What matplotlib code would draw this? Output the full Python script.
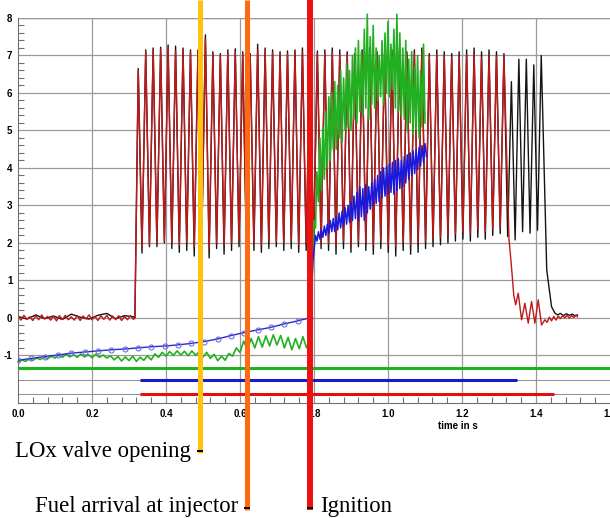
import numpy as np
import matplotlib
matplotlib.use('Agg')
import matplotlib.pyplot as plt
from matplotlib.lines import Line2D
from matplotlib.ticker import FixedLocator, MultipleLocator
import matplotlib.transforms as mtransforms

# ---- data ----
# pulsed feed pressure (black / red), start of first peak and pulse period in s
T0 = 0.325
PERIOD = 0.02017
t_rise = 0.316

black_pre_t = [0.0, 0.024, 0.048, 0.072, 0.096, 0.120, 0.144, 0.168, 0.192, 0.216, 0.240, 0.264, 0.288, 0.312]
black_pre_v = [0.04, -0.03, 0.08, -0.02, 0.05, -0.04, 0.10, 0.02, -0.03, 0.07, 0.12, -0.02, 0.06, 0.03]
black_peaks = [6.65, 7.15, 7.20, 7.22, 7.28, 7.25, 7.20, 7.15, 7.15, 7.55,
               7.10, 7.05, 7.15, 7.18, 7.10, 7.05, 7.30, 7.20, 7.15, 7.10,
               7.12, 7.15, 7.20, 7.10, 7.12, 7.15, 7.20, 7.15, 7.10, 7.05,
               7.15, 7.20, 7.10, 7.05, 7.15, 7.20, 7.10, 7.15, 7.20, 7.05,
               7.15, 7.10, 7.05, 7.10, 7.15, 7.20, 7.10, 7.15, 7.10, 7.05,
               6.30, 6.90, 6.90, 6.75, 7.00]
black_troughs = [1.73, 1.90, 1.90, 2.00, 1.85, 1.75, 1.80, 1.65, 1.90, 1.60,
                 1.85, 1.70, 1.80, 1.90, 1.70, 1.80, 1.75, 1.85, 1.90, 1.80,
                 1.85, 1.75, 1.80, 1.90, 1.85, 1.80, 1.70, 1.85, 1.75, 1.90,
                 1.80, 1.70, 1.85, 1.75, 1.65, 1.80, 1.70, 1.75, 1.85, 1.90,
                 1.95, 2.00, 2.05, 2.10, 2.05, 2.15, 2.10, 2.20, 2.25, 2.17,
                 2.08, 2.30, 2.26, 2.34]
black_tail_t = [1.429, 1.442, 1.451, 1.458, 1.466, 1.474, 1.482, 1.490, 1.498, 1.506, 1.512]
black_tail_v = [1.28, 0.30, 0.13, 0.08, 0.12, 0.06, 0.11, 0.07, 0.10, 0.05, 0.08]

red_pre_t = [0.000, 0.008, 0.016, 0.024, 0.032, 0.040, 0.048, 0.056, 0.064, 0.072,
             0.080, 0.088, 0.096, 0.104, 0.112, 0.120, 0.128, 0.136, 0.144, 0.152,
             0.160, 0.168, 0.176, 0.184, 0.192, 0.200, 0.208, 0.216, 0.224, 0.232,
             0.240, 0.248, 0.256, 0.264, 0.272, 0.280, 0.288, 0.296, 0.304, 0.312]
red_pre_v = [0.05, -0.06, 0.07, -0.04, 0.03, -0.07, 0.06, -0.05, 0.08, -0.03,
             0.04, -0.06, 0.05, -0.08, 0.06, -0.04, 0.07, -0.05, 0.03, -0.06,
             0.06, -0.07, 0.05, -0.03, 0.08, -0.05, 0.04, -0.07, 0.06, -0.04,
             0.07, -0.06, 0.05, -0.05, 0.06, -0.07, 0.04, -0.05, 0.06, -0.04]
red_peaks = [6.60, 7.10, 7.15, 7.18, 7.20, 7.12, 7.15, 7.10, 7.08, 7.45,
             7.05, 7.00, 7.08, 7.10, 7.05, 7.00, 7.15, 7.12, 7.08, 7.05,
             7.05, 7.08, 7.10, 7.02, 7.05, 7.08, 7.10, 7.05, 7.02, 7.00,
             7.08, 7.10, 7.02, 6.98, 7.05, 7.10, 7.02, 7.05, 7.08, 6.98,
             7.02, 7.00, 6.95, 6.98, 7.02, 7.05, 6.95, 7.00, 6.98, 7.00]
red_troughs = [1.90, 1.95, 2.00, 2.05, 2.00, 1.95, 2.00, 1.90, 2.05, 1.85,
               2.00, 1.95, 2.00, 2.05, 1.95, 2.00, 1.95, 2.05, 2.05, 2.00,
               2.05, 1.95, 2.00, 2.05, 2.00, 2.00, 1.95, 2.05, 1.95, 2.05,
               2.00, 1.95, 2.05, 1.95, 1.90, 2.00, 1.95, 2.00, 2.05, 2.10,
               2.15, 2.20, 2.25, 2.30, 2.25, 2.35, 2.30, 2.38, 2.40]
red_tail_t = [1.327, 1.333, 1.340, 1.345, 1.352, 1.361, 1.370, 1.379, 1.388, 1.397,
              1.406, 1.415, 1.424, 1.430, 1.436, 1.442, 1.448, 1.454, 1.460, 1.466,
              1.472, 1.478, 1.484, 1.490, 1.496, 1.502, 1.508, 1.512]
red_tail_v = [2.10, 1.45, 0.60, 0.35, 0.66, -0.05, 0.39, -0.14, 0.44, -0.14,
              0.48, -0.19, -0.05, -0.12, 0.02, -0.08, 0.04, -0.06, 0.05, -0.02,
              0.06, 0.00, 0.07, -0.01, 0.06, 0.01, 0.08, 0.03]

# green (chamber signal) before ignition, 0.01 s steps from 0.00 to 0.79
green_pre_v = [-1.17, -1.12, -1.16, -1.10, -1.13, -1.07, -1.11, -1.05, -1.09, -1.02,
               -1.07, -0.99, -1.05, -0.97, -1.04, -0.98, -1.05, -0.96, -1.04, -0.98,
               -1.06, -0.97, -1.05, -0.99, -1.07, -1.01, -1.12, -1.03, -1.15, -1.04,
               -1.14, -1.02, -1.16, -1.05, -1.13, -1.01, -1.12, -0.96, -1.05, -0.92,
               -1.02, -0.90, -1.00, -0.88, -0.99, -0.89, -1.01, -0.88, -1.00, -0.90,
               -1.04, -0.92, -1.08, -0.97, -1.14, -1.02, -1.13, -0.95, -1.02, -0.80,
               -0.92, -0.62, -0.85, -0.55, -0.80, -0.50, -0.78, -0.48, -0.75, -0.45,
               -0.72, -0.47, -0.80, -0.52, -0.85, -0.55, -0.82, -0.50, -0.80, -0.55]
green_jump_t = [0.794]
green_jump_v = [0.80]
# after ignition: upper / lower swing, 0.008 s steps from 0.800
green_hi = [2.6, 3.9, 4.8, 5.1, 5.5, 5.9, 6.0, 6.3, 6.2, 6.6,
            6.4, 6.8, 6.6, 7.0, 7.2, 7.4, 7.1, 7.7, 8.1, 7.5,
            7.8, 7.2, 7.0, 7.4, 7.6, 7.9, 7.3, 7.7, 8.1, 7.6,
            7.2, 7.4, 6.9, 7.1, 6.7, 7.0, 6.6, 7.3]
green_lo = [2.4, 3.1, 3.4, 3.7, 4.0, 4.2, 4.5, 4.5, 4.8, 4.7,
            5.0, 5.1, 5.0, 5.3, 5.2, 5.5, 5.4, 5.6, 5.3, 5.7,
            5.6, 5.8, 5.9, 5.7, 6.0, 5.9, 6.1, 5.6, 5.5, 5.4,
            5.3, 5.0, 5.2, 4.9, 5.0, 4.8, 5.1, 5.2]

# blue (injection pressure) before ignition, with circle markers
blue_pre_t = [0.0, 0.036, 0.072, 0.108, 0.144, 0.180, 0.216, 0.252, 0.288, 0.324,
              0.360, 0.396, 0.432, 0.468, 0.504, 0.540, 0.576, 0.612, 0.648, 0.684,
              0.720, 0.756, 0.788]
blue_pre_v = [-1.13, -1.08, -1.03, -0.99, -0.94, -0.91, -0.88, -0.85, -0.83, -0.80,
              -0.77, -0.75, -0.72, -0.68, -0.63, -0.56, -0.47, -0.39, -0.32, -0.25,
              -0.16, -0.08, 0.00]
blue_jump_t = [0.793, 0.797]
blue_jump_v = [0.60, 1.50]
# after ignition: upper / lower swing, 0.008 s steps from 0.804
blue_hi = [2.20, 2.30, 2.35, 2.45, 2.50, 2.60, 2.65, 2.70, 2.80, 2.85,
           2.95, 3.00, 3.10, 3.25, 3.35, 3.50, 3.45, 3.55, 3.50, 3.60,
           3.70, 3.80, 3.90, 4.00, 4.05, 4.10, 4.15, 4.20, 4.25, 4.20,
           4.30, 4.35, 4.40, 4.45, 4.50, 4.55, 4.60, 4.65]
blue_lo = [2.05, 2.10, 2.15, 2.20, 2.25, 2.30, 2.30, 2.35, 2.40, 2.45,
           2.50, 2.55, 2.60, 2.65, 2.60, 2.70, 2.60, 2.80, 2.90, 3.00,
           3.05, 3.10, 3.20, 3.25, 3.30, 3.35, 3.30, 3.40, 3.45, 3.50,
           3.60, 3.70, 3.80, 3.85, 3.95, 4.05, 4.15, 4.30]

# valve / status bars below the traces: level, start, end, colour
bar_levels = [-1.33, -1.65, -2.03]
bar_start = [0.0, 0.33, 0.33]
bar_end = [1.6, 1.348, 1.449]
bar_colors = ['#1db31d', '#1a1acc', '#e01010']

# sequence events
event_t = [0.492, 0.619, 0.789]
event_labels = ['LOx valve opening', 'Fuel arrival at injector', 'Ignition']
event_colors = ['#ffc20e', '#ff6a10', '#ee1111']
event_widths = [3.6, 3.6, 4.3]


def pulse_series(pre_t, pre_v, peaks, troughs, tail_t, tail_v):
    pk_t = T0 + PERIOD * np.arange(len(peaks))
    tr_t = pk_t[:len(troughs)] + PERIOD / 2
    tt = list(pre_t) + [t_rise]
    vv = list(pre_v) + [0.0]
    for i in range(len(peaks)):
        tt.append(pk_t[i]); vv.append(peaks[i])
        if i < len(troughs):
            tt.append(tr_t[i]); vv.append(troughs[i])
    return tt + list(tail_t), vv + list(tail_v)


def swing(t_start, hi, lo):
    tt, vv = [], []
    for k in range(len(hi)):
        tt += [t_start + 0.008 * k, t_start + 0.008 * k + 0.004]
        vv += [hi[k], lo[k]]
    return tt, vv


black_t, black_v = pulse_series(black_pre_t, black_pre_v, black_peaks, black_troughs, black_tail_t, black_tail_v)
red_t, red_v = pulse_series(red_pre_t, red_pre_v, red_peaks, red_troughs, red_tail_t, red_tail_v)

green_pre_t = list(np.round(np.arange(len(green_pre_v)) * 0.01, 3))
gs_t, gs_v = swing(0.800, green_hi, green_lo)
green_t = green_pre_t + green_jump_t + gs_t
green_v = green_pre_v + green_jump_v + gs_v

bs_t, bs_v = swing(0.804, blue_hi, blue_lo)
blue_t = blue_pre_t + blue_jump_t + bs_t
blue_v = blue_pre_v + blue_jump_v + bs_v

# ---- figure ----
fig = plt.figure(figsize=(6.10, 5.18), dpi=100)
ax = fig.add_axes([18 / 610, 115 / 518, 592 / 610, 385 / 518])

ax.set_xlim(0, 1.6)
ax.set_ylim(-2.27, 8)

gridc = '#9a9a9a'
for y in range(-1, 9):
    ax.axhline(y, color=gridc, lw=0.9, zorder=0)
for x in np.arange(0.2, 1.6, 0.2):
    ax.axvline(x, color=gridc, lw=0.9, zorder=0)

# thin reference lines for the status bars
for lev in bar_levels:
    ax.axhline(lev, color='#8c8c8c', lw=0.7, zorder=0)
for lev, a, b, c in zip(bar_levels, bar_start, bar_end, bar_colors):
    ax.plot([a, b], [lev, lev], color=c, lw=2.2, solid_capstyle='butt', zorder=3)

ax.plot(black_t, black_v, color='#141414', lw=1.0, zorder=2)
ax.plot(red_t, red_v, color='#c01818', lw=1.0, zorder=2.2)
ax.plot(green_t, green_v, color='#22b022', lw=1.2, zorder=2.5, clip_on=False)
ax.plot(blue_pre_t, blue_pre_v, color='#2a2ac8', lw=1.0, marker='o', ms=3.6,
        mfc='none', mec='#6f6fe8', mew=0.8, zorder=2.6)
ax.plot(blue_t[len(blue_pre_t) - 1:], blue_v[len(blue_pre_v) - 1:], color='#1818e0', lw=1.1, zorder=2.6)

for s in ['top', 'right']:
    ax.spines[s].set_visible(False)
ax.spines['left'].set_color('#707070')
ax.spines['bottom'].set_color('#707070')
ax.axhline(8, color=gridc, lw=1.0, zorder=0)

ax.set_yticks(range(-1, 9))
ax.set_yticklabels([str(v) for v in range(-1, 9)])
ax.yaxis.set_minor_locator(FixedLocator([v / 5 for v in range(-5, 40) if v % 5 != 0]))
ax.set_xticks(np.round(np.arange(0, 1.61, 0.2), 1))
ax.set_xticklabels(['%.1f' % v for v in np.arange(0, 1.61, 0.2)])
ax.xaxis.set_minor_locator(MultipleLocator(0.04))
ax.tick_params(which='both', direction='in', colors='#707070', labelcolor='black')
ax.tick_params(which='major', length=0, pad=4)
ax.tick_params(which='minor', length=4, width=0.8)
for lab in ax.get_xticklabels() + ax.get_yticklabels():
    lab.set_fontfamily('Liberation Sans')
    lab.set_fontweight('bold')
    lab.set_fontsize(7)

trans = mtransforms.blended_transform_factory(ax.transData, fig.transFigure)
ax.text(1.19, (518 - 426) / 518, 'time in s', transform=trans, ha='center', va='center',
        fontsize=7, fontweight='bold', family='Liberation Sans')

# event marker lines running from the top of the figure down to the captions
line_bottom = [(518 - 453) / 518, (518 - 510) / 518, (518 - 510) / 518]
off = mtransforms.ScaledTranslation(0, 2 / 100, fig.dpi_scale_trans)
for t, c, w, yb in zip(event_t, event_colors, event_widths, line_bottom):
    fig.add_artist(Line2D([t, t], [1.0, yb], transform=trans, color=c, lw=w,
                          solid_capstyle='butt', zorder=5))
    # small black tick at the foot of each line
    fig.add_artist(Line2D([t, t], [yb, yb], transform=trans + off, color='black',
                          lw=0, marker='_', ms=5, mew=1.4, zorder=6))

serif = 'Liberation Serif'
text_base = [(518 - 457) / 518, (518 - 512) / 518, (518 - 512) / 518]
text_off = [-9, -9, 10]
text_ha = ['right', 'right', 'left']
for t, lab, yb, dx, ha in zip(event_t, event_labels, text_base, text_off, text_ha):
    ax.annotate(lab, xy=(t, yb), xycoords=trans, xytext=(dx, 0), textcoords='offset pixels',
                ha=ha, va='baseline', fontsize=16.4, family=serif, annotation_clip=False)

fig.savefig('out.png', dpi=100)
